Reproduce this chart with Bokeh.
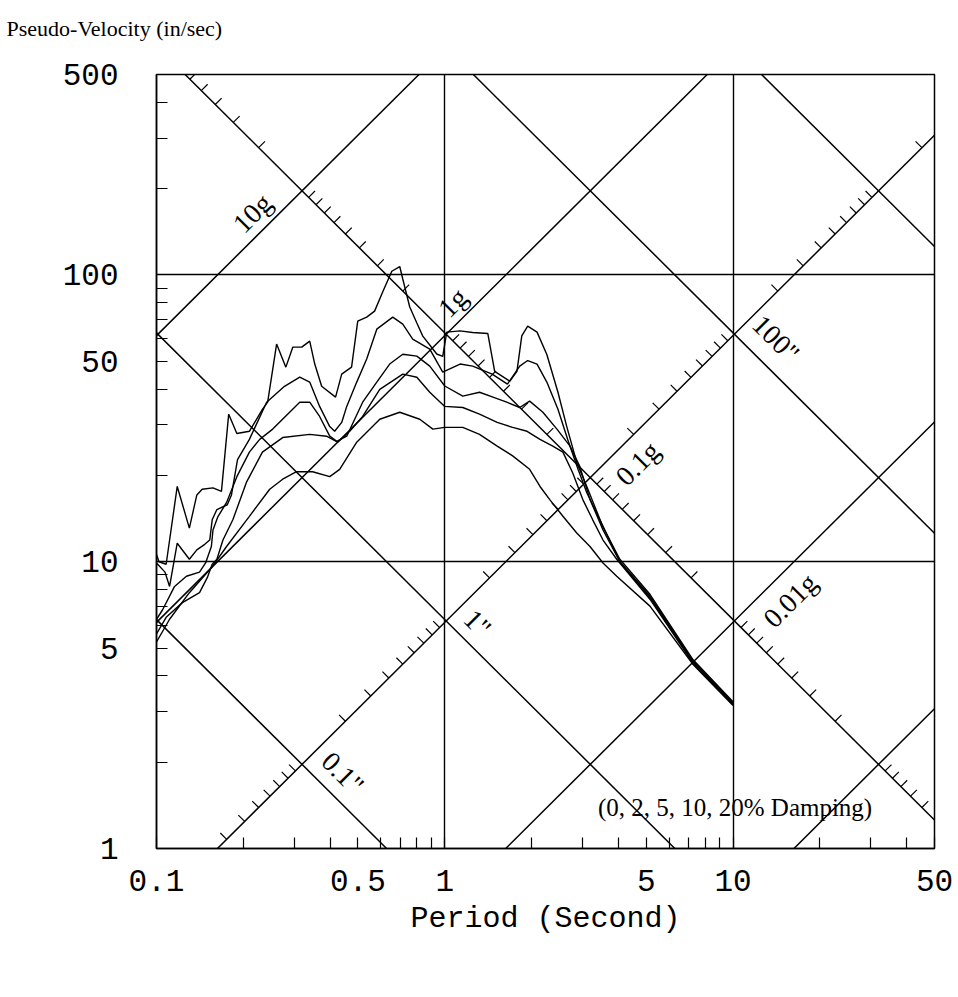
import math
from bokeh.plotting import figure
from bokeh.models import FixedTicker
from bokeh.embed import file_html
from bokeh.resources import INLINE
from bokeh.core.properties import value

# ---------------- data ----------------
# Pseudo-velocity spectra (in/sec) vs period (s), one per damping ratio
T_0 = [0.100, 0.102, 0.108, 0.118, 0.130, 0.138, 0.144, 0.157, 0.168, 0.178,
       0.190, 0.210, 0.233, 0.243, 0.261, 0.281, 0.297, 0.319, 0.340, 0.354,
       0.374, 0.418, 0.439, 0.475, 0.499, 0.536, 0.571, 0.609, 0.655, 0.698,
       0.715, 0.756, 0.800, 0.839, 0.887, 0.938, 0.984, 1.016, 1.13, 1.25,
       1.41, 1.49, 1.68, 1.78, 1.85, 1.94, 2.09, 2.26, 2.47, 2.65,
       2.87, 3.11, 3.54, 4.05, 5.15, 7.27, 10.0]
PSV_0 = [10.6, 10.0, 9.8, 18.3, 13.1, 17.1, 17.9, 18.1, 17.6, 32.7,
         28.0, 28.5, 34.0, 36.0, 57.4, 47.7, 56.0, 56.0, 58.8, 48.9,
         40.9, 37.5, 45.1, 47.7, 69.0, 71.3, 74.8, 87.2, 103, 107,
         96.8, 77.3, 68.0, 61.2, 57.0, 53.0, 52.0, 63.2, 63.8, 63.0,
         62.5, 46.1, 42.6, 46.1, 61.3, 66.3, 63.2, 52.8, 39.0, 29.6,
         22.2, 18.3, 13.2, 10.2, 7.7, 4.55, 3.25]

T_2 = [0.100, 0.107, 0.111, 0.118, 0.130, 0.138, 0.147, 0.153, 0.156, 0.162,
       0.176, 0.182, 0.191, 0.210, 0.241, 0.278, 0.314, 0.340, 0.368, 0.399,
       0.415, 0.439, 0.457, 0.495, 0.536, 0.581, 0.660, 0.715, 0.774, 0.887,
       0.984, 1.13, 1.25, 1.46, 1.65, 1.82, 1.94, 2.09, 2.26, 2.47,
       2.67, 2.90, 3.11, 3.54, 4.05, 5.15, 7.27, 10.0]
PSV_2 = [9.9, 9.2, 8.2, 11.6, 10.2, 11.0, 11.5, 11.9, 14.0, 15.2,
         15.8, 17.1, 22.7, 26.7, 36.0, 40.9, 44.0, 42.3, 34.8, 29.6,
         28.5, 30.6, 34.8, 42.3, 50.9, 64.7, 71.3, 67.4, 59.7, 55.1,
         45.8, 48.9, 48.1, 45.1, 41.6, 48.1, 50.3, 48.9, 42.3, 34.0,
         26.7, 21.0, 17.4, 13.3, 10.0, 7.6, 4.5, 3.22]

T_5 = [0.100, 0.105, 0.1155, 0.127, 0.141, 0.148, 0.155, 0.157, 0.163, 0.175,
       0.190, 0.210, 0.228, 0.253, 0.314, 0.340, 0.368, 0.399, 0.422, 0.457,
       0.519, 0.581, 0.644, 0.715, 0.800, 0.887, 1.0, 1.155, 1.32, 1.47,
       1.64, 1.82, 1.97, 2.19, 2.45, 2.72, 2.94, 3.19, 3.54, 4.05,
       5.15, 7.27, 10.0]
PSV_5 = [6.3, 6.8, 8.2, 8.9, 9.2, 9.9, 11.3, 12.9, 14.3, 16.1,
         19.8, 24.1, 26.7, 29.0, 36.0, 36.0, 32.1, 27.4, 26.3, 27.4,
         36.0, 42.3, 48.9, 52.9, 52.1, 48.1, 41.0, 37.8, 39.0, 37.5,
         36.0, 34.5, 36.3, 33.2, 29.0, 25.3, 21.5, 16.5, 12.9, 10.0,
         7.5, 4.47, 3.2]

T_10 = [0.100, 0.108, 0.123, 0.141, 0.150, 0.156, 0.162, 0.170, 0.184, 0.205,
        0.233, 0.274, 0.340, 0.389, 0.425, 0.468, 0.519, 0.595, 0.715, 0.800,
        0.887, 1.0, 1.155, 1.32, 1.52, 1.72, 1.93, 2.14, 2.37, 2.57,
        2.78, 3.01, 3.26, 3.54, 3.95, 5.15, 7.27, 10.0]
PSV_10 = [5.6, 6.4, 7.2, 7.8, 8.8, 9.8, 10.2, 11.9, 14.0, 18.9,
          24.1, 27.1, 27.8, 27.4, 26.1, 28.5, 32.1, 39.9, 45.1, 44.0,
          39.0, 34.8, 34.5, 32.7, 30.6, 29.4, 28.5, 26.7, 25.3, 24.1,
          20.4, 16.5, 14.0, 11.9, 10.2, 7.4, 4.42, 3.18]

T_20 = [0.100, 0.111, 0.130, 0.156, 0.175, 0.210, 0.247, 0.274, 0.306, 0.348,
        0.399, 0.432, 0.495, 0.595, 0.698, 0.819, 0.909, 1.0, 1.155, 1.32,
        1.52, 1.72, 1.97, 2.14, 2.31, 2.57, 2.87, 3.19, 3.54, 3.95,
        5.15, 7.27, 10.0]
PSV_20 = [5.25, 6.3, 7.8, 9.6, 11.3, 14.4, 17.9, 19.4, 20.6, 20.6,
          19.8, 21.0, 26.1, 31.4, 33.2, 31.4, 29.0, 29.4, 29.4, 27.8,
          25.3, 23.4, 21.0, 18.3, 16.5, 14.4, 12.6, 11.3, 9.9, 8.9,
          7.0, 4.38, 3.15]

# axes
X_TICKS = [0.1, 0.5, 1, 5, 10, 50]
X_TICK_LABELS = ["0.1", "0.5", "1", "5", "10", "50"]
X_MINOR = [0.2, 0.3, 0.4, 0.6, 0.7, 0.8, 0.9, 2, 3, 4, 6, 7, 8, 9, 20, 30, 40]
Y_TICKS = [1, 5, 10, 50, 100, 500]
Y_TICK_LABELS = ["1", "5", "10", "50", "100", "500"]
Y_MINOR = [2, 3, 4, 6, 7, 8, 9, 20, 30, 40, 60, 70, 80, 90, 200, 300, 400]
X_GRID = [1, 10]
Y_GRID = [10, 100]

# tripartite grid: displacement lines (in) and acceleration lines (g)
DISP_LINES = [0.1, 1, 10, 100, 1000]
ACCEL_LINES = [0.001, 0.01, 0.1, 1, 10]
DISP_WITH_TICKS = 10        # the 10" line carries acceleration ticks
ACCEL_WITH_TICKS = 0.1      # the 0.1g line carries displacement ticks
SUB_MULTIPLES = [2, 3, 4, 5, 6, 7, 8, 9]
G_IN = 386.09               # in/s^2

ACCEL_LABELS = ["10g", "1g", "0.1g", "0.01g"]
ACCEL_LABEL_VALUES = [10, 1, 0.1, 0.01]
DISP_LABELS = ['100"', '1"', '0.1"']
DISP_LABEL_VALUES = [100, 1, 0.1]

# ---------------- layout / style ----------------
T_MIN, T_MAX = 0.1, 50.0
V_MIN, V_MAX = 1.0, 500.0
FW, FH = 778, 774
TWO_PI = 2 * math.pi

# label placement along their line (period) and vertical pixel offset
ACCEL_LABEL_AT = [0.215, 1.066, 4.67, 15.8]
ACCEL_LABEL_DY = [-27, -25, 33, 35]
DISP_LABEL_AT = [14.1, 1.30, 0.443]
DISP_LABEL_DY = [-37, -29, -32]

p = figure(x_axis_type="log", y_axis_type="log",
           x_range=(T_MIN * 0.9999, T_MAX * 1.0001),
           y_range=(V_MIN * 0.9999, V_MAX * 1.0001),
           frame_width=FW, frame_height=FH,
           min_border_left=156, min_border_right=22,
           min_border_top=74, min_border_bottom=140,
           output_backend="svg", toolbar_location=None,
           background_fill_color="white", border_fill_color="white")

# title: a blank second line lifts it clear of the frame
p.title.text = "Pseudo-Velocity (in/sec)\n\u00a0"
p.title.align = "left"
p.title.offset = -150
p.title.text_font = "Liberation Serif"
p.title.text_font_size = "22px"
p.title.text_font_style = "normal"
p.title.text_color = "black"
p.title.standoff = 18

p.outline_line_color = "black"
p.outline_line_width = 1.5

# axes
p.xaxis.ticker = FixedTicker(ticks=X_TICKS, minor_ticks=X_MINOR)
p.yaxis.ticker = FixedTicker(ticks=Y_TICKS, minor_ticks=Y_MINOR)
p.xaxis.major_label_overrides = dict(zip(X_TICKS, X_TICK_LABELS))
p.yaxis.major_label_overrides = dict(zip(Y_TICKS, Y_TICK_LABELS))
for ax in (p.xaxis, p.yaxis):
    ax.axis_line_color = "black"
    ax.axis_line_width = 1.5
    ax.major_tick_in = 11
    ax.major_tick_out = 0
    ax.minor_tick_in = 11
    ax.minor_tick_out = 0
    ax.major_tick_line_color = "black"
    ax.minor_tick_line_color = "black"
    ax.major_tick_line_width = 1.2
    ax.minor_tick_line_width = 1.2
    ax.major_label_text_font = "Liberation Mono"
    ax.major_label_text_font_size = "31px"
    ax.major_label_text_color = "black"
p.yaxis.major_label_standoff = 38
p.xaxis.major_label_standoff = 21
p.xaxis.axis_label = "Period (Second)"
p.xaxis.axis_label_text_font = "Liberation Mono"
p.xaxis.axis_label_text_font_size = "30px"
p.xaxis.axis_label_text_font_style = "normal"
p.xaxis.axis_label_text_color = "black"
p.xaxis.axis_label_standoff = 8

p.xgrid.ticker = FixedTicker(ticks=X_GRID)
p.ygrid.ticker = FixedTicker(ticks=Y_GRID)
for g in (p.xgrid, p.ygrid):
    g.grid_line_color = "black"
    g.grid_line_width = 1.4
    g.grid_line_alpha = 1.0

# ---------------- tripartite lines ----------------
def disp_v(d, t):
    return TWO_PI * d / t

def accel_v(a, t):
    return a * G_IN * t / TWO_PI

xs, ys = [], []
for d in DISP_LINES:
    t1 = max(T_MIN, TWO_PI * d / V_MAX)
    t2 = min(T_MAX, TWO_PI * d / V_MIN)
    if t1 < t2:
        xs.append([t1, t2]); ys.append([disp_v(d, t1), disp_v(d, t2)])
for a in ACCEL_LINES:
    t1 = max(T_MIN, TWO_PI * V_MIN / (a * G_IN))
    t2 = min(T_MAX, TWO_PI * V_MAX / (a * G_IN))
    if t1 < t2:
        xs.append([t1, t2]); ys.append([accel_v(a, t1), accel_v(a, t2)])
p.multi_line(xs, ys, line_color="black", line_width=1.5)

# small ticks along the 10" and 0.1g lines
TICK_LEN = 9
px_dec_x = FW / math.log10(T_MAX / T_MIN)
px_dec_y = FH / math.log10(V_MAX / V_MIN)
da = TICK_LEN / math.sqrt(2) / px_dec_x
db = TICK_LEN / math.sqrt(2) / px_dec_y

def crossing(d, a):
    t = TWO_PI * math.sqrt(d / (a * G_IN))
    return t, disp_v(d, t)

tx0, ty0, tx1, ty1 = [], [], [], []
for k in range(-5, 4):
    for m in SUB_MULTIPLES:
        # acceleration ticks on the displacement line
        t, v = crossing(DISP_WITH_TICKS, m * 10.0 ** k)
        if T_MIN < t < T_MAX and V_MIN < v < V_MAX:
            tx0.append(t); ty0.append(v)
            tx1.append(t * 10 ** da); ty1.append(v * 10 ** db)
        # displacement ticks on the acceleration line
        t, v = crossing(m * 10.0 ** k, ACCEL_WITH_TICKS)
        if T_MIN < t < T_MAX and V_MIN < v < V_MAX:
            tx0.append(t); ty0.append(v)
            tx1.append(t * 10 ** -da); ty1.append(v * 10 ** db)
p.segment(tx0, ty0, tx1, ty1, line_color="black", line_width=1.2)

# ---------------- spectra ----------------
for T, V in ((T_0, PSV_0), (T_2, PSV_2), (T_5, PSV_5), (T_10, PSV_10), (T_20, PSV_20)):
    p.line(T, V, line_color="black", line_width=1.4)

# ---------------- labels ----------------
p.text(x=ACCEL_LABEL_AT,
       y=[accel_v(a, t) for a, t in zip(ACCEL_LABEL_VALUES, ACCEL_LABEL_AT)],
       text=ACCEL_LABELS, angle=math.pi / 4, y_offset=ACCEL_LABEL_DY,
       text_font=value("Liberation Serif"), text_font_size="28px",
       text_align="center", text_baseline="middle", text_color="black")
p.text(x=DISP_LABEL_AT,
       y=[disp_v(d, t) for d, t in zip(DISP_LABEL_VALUES, DISP_LABEL_AT)],
       text=DISP_LABELS, angle=-math.pi / 4, y_offset=DISP_LABEL_DY,
       text_font=value("Liberation Serif"), text_font_size="28px",
       text_align="center", text_baseline="middle", text_color="black")
p.text(x=[30.4], y=[1.39], text=["(0, 2, 5, 10, 20% Damping)"],
       text_font=value("Liberation Serif"), text_font_size="25px",
       text_align="right", text_baseline="middle", text_color="black")

open("out.html", "w").write(file_html(p, INLINE))
